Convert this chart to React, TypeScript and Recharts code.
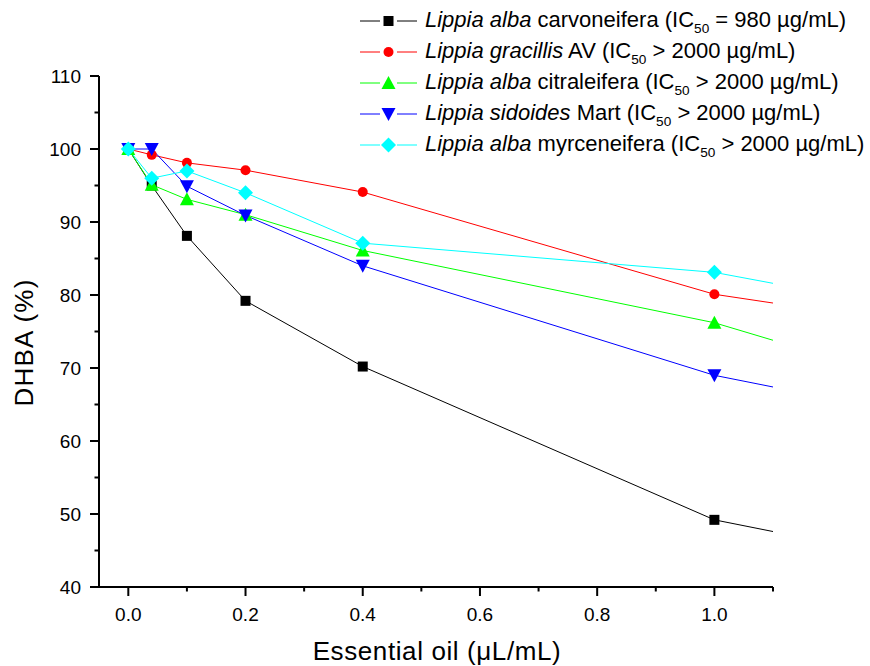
import React from 'react';
import { LineChart, Line, XAxis, YAxis } from 'recharts';

// ---- data ----
const xValues = [0, 0.04, 0.1, 0.2, 0.4, 1.0, 1.1];
const carvoneifera = [100, 95, 88.1, 79.2, 70.2, 49.2, 47.6];
const gracillis = [100, 99.2, 98.1, 97.1, 94.1, 80.1, 78.9];
const citraleifera = [100, 95.1, 93.1, 91, 86.1, 76.2, 73.8];
const sidoides = [100, 100, 94.9, 90.9, 84, 69, 67.4];
const myrceneifera = [100, 96, 97, 94, 87.1, 83.1, 81.6];
const lastMeasuredX = 1.0;

const speciesItalic = ['Lippia alba', 'Lippia gracillis', 'Lippia alba', 'Lippia sidoides', 'Lippia alba'];
const speciesRest = [' carvoneifera (IC', ' AV (IC', ' citraleifera (IC', ' Mart (IC', ' myrceneifera (IC'];
const icValues = [' = 980 \u00b5g/mL)', ' > 2000 \u00b5g/mL)', ' > 2000 \u00b5g/mL)', ' > 2000 \u00b5g/mL)', ' > 2000 \u00b5g/mL)'];
const seriesColors = ['#000000', '#ff0000', '#00ff00', '#0000ff', '#00ffff'];
const seriesShapes = ['square', 'circle', 'triangleUp', 'triangleDown', 'diamond'];
const seriesValues = [carvoneifera, gracillis, citraleifera, sidoides, myrceneifera];

const xTicks = [0, 0.1, 0.2, 0.3, 0.4, 0.5, 0.6, 0.7, 0.8, 0.9, 1.0, 1.1];
const yTicks = [40, 45, 50, 55, 60, 65, 70, 75, 80, 85, 90, 95, 100, 105, 110];

const data = xValues.map((x, i) => {
  const row: any = { x };
  seriesValues.forEach((s, k) => { row['s' + k] = s[i]; });
  return row;
});

const FONT = '"Liberation Sans", Arial, Helvetica, sans-serif';

function Marker({ kind, cx, cy, color }: { kind: string; cx: number; cy: number; color: string }) {
  switch (kind) {
    case 'square':
      return <rect x={cx - 5} y={cy - 5} width={10} height={10} fill={color} />;
    case 'circle':
      return <circle cx={cx} cy={cy} r={5} fill={color} />;
    case 'triangleUp':
      return <polygon points={`${cx},${cy - 7} ${cx - 7},${cy + 6} ${cx + 7},${cy + 6}`} fill={color} />;
    case 'triangleDown':
      return <polygon points={`${cx},${cy + 7} ${cx - 7},${cy - 6} ${cx + 7},${cy - 6}`} fill={color} />;
    case 'diamond':
      return <polygon points={`${cx},${cy - 7.5} ${cx + 7.5},${cy} ${cx},${cy + 7.5} ${cx - 7.5},${cy}`} fill={color} />;
    default:
      return null;
  }
}

const makeDot = (k: number) => (props: any) => {
  const { cx, cy, payload, index } = props;
  if (payload.x > lastMeasuredX + 1e-9 || cx == null || cy == null) return <g key={`d${k}-${index}`} />;
  return (
    <g key={`d${k}-${index}`}>
      <Marker kind={seriesShapes[k]} cx={cx} cy={cy} color={seriesColors[k]} />
    </g>
  );
};

const YTick = (props: any) => {
  const { x, y, payload } = props;
  const v = payload.value;
  const major = v % 10 === 0;
  return (
    <g>
      <line x1={x} x2={x - (major ? 9 : 4.5)} y1={y} y2={y} stroke="#000" strokeWidth={2} />
      {major && (
        <text x={x - 18} y={y} dy="0.36em" textAnchor="end" fontSize={19} fontFamily={FONT} fill="#000">
          {v}
        </text>
      )}
    </g>
  );
};

const XTick = (props: any) => {
  const { x, y, payload } = props;
  const v = payload.value;
  const major = Math.round(v * 10) % 2 === 0;
  return (
    <g>
      <line x1={x} x2={x} y1={y} y2={y + (major ? 9 : 4.5)} stroke="#000" strokeWidth={2} />
      {major && (
        <text x={x} y={y + 34} textAnchor="middle" fontSize={19} fontFamily={FONT} fill="#000">
          {v.toFixed(1)}
        </text>
      )}
    </g>
  );
};

const XTitle = (props: any) => {
  const vb = props.viewBox || {};
  return (
    <text x={vb.x + vb.width / 2 + 1} y={vb.y + 73} textAnchor="middle" fontSize={26} letterSpacing={0.6} fontFamily={FONT} fill="#000">
      Essential oil (μL/mL)
    </text>
  );
};

const YTitle = (props: any) => {
  const vb = props.viewBox || {};
  const cx = vb.x - 6;
  const cy = vb.y + vb.height / 2 + 11;
  return (
    <text x={cx} y={cy} transform={`rotate(-90, ${cx}, ${cy})`} textAnchor="middle" fontSize={26} letterSpacing={1.2} fontFamily={FONT} fill="#000">
      DHBA (%)
    </text>
  );
};

function LegendBox() {
  return (
    <div style={{ position: 'absolute', left: 360, top: 5, fontFamily: FONT, fontSize: 22, color: '#000' }}>
      {speciesItalic.map((name, k) => (
        <div key={k} style={{ display: 'flex', alignItems: 'center', height: 31, whiteSpace: 'nowrap' }}>
          <svg width={57} height={20} style={{ flex: 'none' }}>
            <line x1={0} x2={20} y1={10} y2={10} stroke={seriesColors[k]} strokeWidth={1} />
            <line x1={37} x2={57} y1={10} y2={10} stroke={seriesColors[k]} strokeWidth={1} />
            <Marker kind={seriesShapes[k]} cx={28.5} cy={10} color={seriesColors[k]} />
          </svg>
          <span style={{ marginLeft: 8, lineHeight: '31px' }}>
            <i>{name}</i>
            {speciesRest[k]}
            <span style={{ fontSize: '0.62em', position: 'relative', top: '0.5em' }}>50</span>
            {icValues[k]}
          </span>
        </div>
      ))}
    </div>
  );
}

export default function App() {
  return (
    <div style={{ position: 'absolute', left: 0, top: 0, width: 870, height: 666, background: '#fff', overflow: 'hidden' }}>
      <LineChart width={870} height={666} data={data} margin={{ top: 76, right: 97, left: 39, bottom: 39 }}>
        <XAxis
          dataKey="x"
          type="number"
          domain={[-0.05, 1.1]}
          ticks={xTicks}
          interval={0}
          tickSize={0}
          tickMargin={0}
          tickLine={false}
          axisLine={{ stroke: '#000', strokeWidth: 2 }}
          tick={<XTick />}
          height={40}
          label={<XTitle />}
          allowDataOverflow
        />
        <YAxis
          type="number"
          domain={[40, 110]}
          ticks={yTicks}
          interval={0}
          tickSize={0}
          tickMargin={0}
          tickLine={false}
          axisLine={{ stroke: '#000', strokeWidth: 2 }}
          tick={<YTick />}
          width={60}
          label={<YTitle />}
          allowDataOverflow
        />
        {seriesValues.map((_, k) => (
          <Line
            key={k}
            dataKey={'s' + k}
            type="linear"
            stroke={seriesColors[k]}
            strokeWidth={1}
            dot={makeDot(k)}
            activeDot={false}
            isAnimationActive={false}
          />
        ))}
      </LineChart>
      <LegendBox />
    </div>
  );
}
